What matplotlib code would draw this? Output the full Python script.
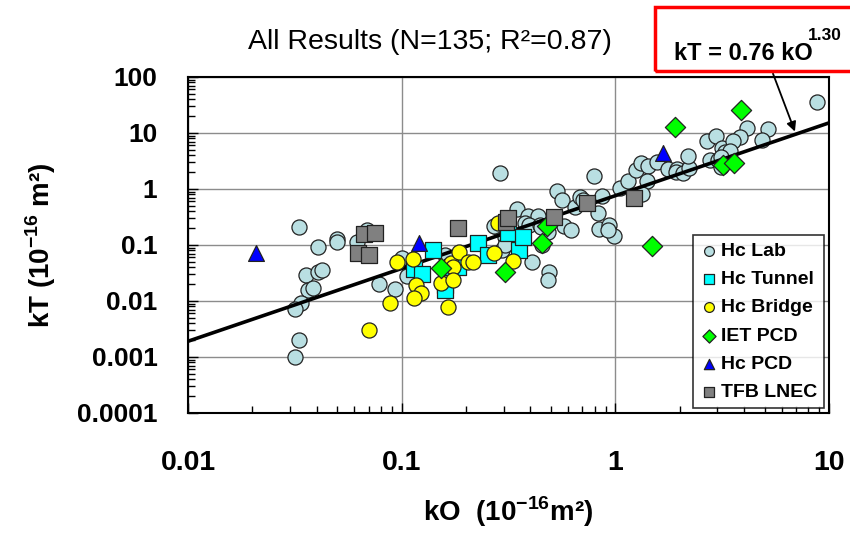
import numpy as np
import matplotlib
matplotlib.use('Agg')
import matplotlib.pyplot as plt
from matplotlib.patches import Rectangle
from matplotlib.ticker import LogLocator, FixedLocator, FixedFormatter, NullFormatter

plt.rcParams['font.family'] = ['Liberation Sans', 'DejaVu Sans']
plt.rcParams['mathtext.fontset'] = 'custom'
plt.rcParams['mathtext.rm'] = 'Liberation Sans'
plt.rcParams['mathtext.bf'] = 'Liberation Sans:bold'

# ---------------- data ----------------
hc_lab_x = [0.033, 0.0405, 0.050, 0.050, 0.062, 0.069, 0.0356, 0.0405, 0.0424, 0.0364,
            0.0385, 0.0338, 0.0317, 0.078, 0.093, 0.100, 0.106, 0.033, 0.0317, 0.159,
            0.279, 0.29, 0.294, 0.304, 0.304, 0.407, 0.489, 0.484, 0.346, 0.39,
            0.434, 0.378, 0.394, 0.444, 0.484, 0.453, 0.575, 0.62, 0.533, 0.562,
            0.647, 0.683, 0.705, 0.794, 0.865, 0.83, 0.84, 0.933, 0.985, 1.05,
            1.146, 1.25, 1.32, 1.42, 1.57, 1.41, 1.33, 1.76, 1.94, 1.92,
            2.07, 2.21, 2.19, 2.68, 2.96, 3.16, 3.26, 2.77, 3.02, 3.12,
            4.13, 5.18, 3.83, 3.55, 4.85, 3.44, 8.78, 0.27, 0.45, 0.92, 3.12]
hc_lab_y = [0.21, 0.092, 0.128, 0.113, 0.113, 0.185, 0.029, 0.033, 0.036, 0.0157,
            0.0171, 0.0092, 0.0072, 0.020, 0.0164, 0.0586, 0.028, 0.002, 0.001, 0.066,
            0.21, 1.93, 0.081, 0.139, 0.10, 0.050, 0.033, 0.0237, 0.44, 0.33,
            0.33, 0.247, 0.228, 0.228, 0.171, 0.10, 0.218, 0.185, 0.92, 0.637,
            0.477, 0.72, 0.637, 1.71, 0.75, 0.373, 0.193, 0.228, 0.145, 1.04,
            1.39, 2.18, 2.91, 2.57, 3.03, 1.39, 0.815, 2.28, 2.28, 2.01,
            1.93, 2.37, 3.88, 7.2, 8.84, 5.40, 4.58, 3.29, 3.29, 2.47,
            12.3, 11.8, 8.48, 7.2, 7.5, 4.77, 35.8, 0.22, 0.21, 0.185, 3.7]

hc_tunnel_x = [0.114, 0.1245, 0.140, 0.159, 0.159, 0.172, 0.1835, 0.2275, 0.2535, 0.314, 0.354, 0.37]
hc_tunnel_y = [0.0373, 0.0303, 0.081, 0.0193, 0.0157, 0.0405, 0.0405, 0.109, 0.066, 0.164, 0.081, 0.139]

hc_bridge_x = [0.0703, 0.088, 0.095, 0.113, 0.117, 0.123, 0.114, 0.153, 0.165, 0.170,
               0.174, 0.174, 0.185, 0.204, 0.216, 0.27, 0.282, 0.332]
hc_bridge_y = [0.00303, 0.0092, 0.0497, 0.0562, 0.0193, 0.0139, 0.0113, 0.021, 0.0078, 0.0477,
               0.0405, 0.0237, 0.075, 0.0497, 0.0497, 0.072, 0.247, 0.0518]

iet_pcd_x = [0.153, 0.304, 0.453, 0.479, 1.49, 1.90, 3.19, 3.59, 3.87]
iet_pcd_y = [0.0388, 0.033, 0.109, 0.218, 0.096, 12.8, 2.68, 2.91, 25.8]

hc_pcd_x = [0.0208, 0.1205, 1.67]
hc_pcd_y = [0.072, 0.109, 4.39]

tfb_lnec_x = [0.0624, 0.0666, 0.0703, 0.075, 0.1835, 0.3076, 0.314, 0.516, 0.736, 1.22]
tfb_lnec_y = [0.072, 0.157, 0.066, 0.164, 0.201, 0.258, 0.303, 0.316, 0.562, 0.69]

fit_coef = 0.76
fit_exp = 1.30

x_ticks = [0.01, 0.1, 1, 10]
x_tick_labels = ['0.01', '0.1', '1', '10']
y_ticks = [0.0001, 0.001, 0.01, 0.1, 1, 10, 100]
y_tick_labels = ['0.0001', '0.001', '0.01', '0.1', '1', '10', '100']

title_text = 'All Results (N=135; R²=0.87)'
eq_main = 'kT = 0.76 kO'
eq_exp = '1.30'

# ---------------- figure ----------------
fig = plt.figure(figsize=(8.5, 5.4), dpi=100)
ax = fig.add_axes([188/850, 1 - 413/540, (829-188)/850, (413-77)/540])
ax.set_xscale('log')
ax.set_yscale('log')
ax.set_xlim(0.01, 10)
ax.set_ylim(0.0001, 100)

ax.grid(True, which='major', color='#8c8c8c', lw=1.0, zorder=0)
ax.set_axisbelow(True)

ms = 118
ax.scatter(hc_lab_x, hc_lab_y, s=ms, marker='o', c='#b9dfe2', edgecolors='#222222',
           linewidths=0.9, zorder=2, label='Hc Lab')
xf = np.logspace(-2, 1, 200)
ax.plot(xf, fit_coef * xf ** fit_exp, color='black', lw=2.6, zorder=2.5)
ax.scatter(hc_tunnel_x, hc_tunnel_y, s=ms, marker='s', c='#00ffff', edgecolors='#222222',
           linewidths=0.9, zorder=3, label='Hc Tunnel')
ax.scatter(hc_bridge_x, hc_bridge_y, s=ms, marker='o', c='#ffff00', edgecolors='#222222',
           linewidths=0.9, zorder=3, label='Hc Bridge')
ax.scatter(iet_pcd_x, iet_pcd_y, s=ms*0.9, marker='D', c='#00ff00', edgecolors='#222222',
           linewidths=0.9, zorder=3, label='IET PCD')
ax.scatter(hc_pcd_x, hc_pcd_y, s=ms*1.1, marker='^', c='#0000ff', edgecolors='#222222',
           linewidths=0.9, zorder=3, label='Hc PCD')
ax.scatter(tfb_lnec_x, tfb_lnec_y, s=ms, marker='s', c='#808080', edgecolors='#222222',
           linewidths=0.9, zorder=3, label='TFB LNEC')

ax.xaxis.set_major_locator(FixedLocator(x_ticks))
ax.xaxis.set_major_formatter(FixedFormatter(x_tick_labels))
ax.yaxis.set_major_locator(FixedLocator(y_ticks))
ax.yaxis.set_major_formatter(FixedFormatter(y_tick_labels))
ax.xaxis.set_minor_locator(LogLocator(base=10, subs=np.arange(2, 10), numticks=20))
ax.yaxis.set_minor_locator(LogLocator(base=10, subs=np.arange(2, 10), numticks=20))
ax.xaxis.set_minor_formatter(NullFormatter())
ax.yaxis.set_minor_formatter(NullFormatter())

ax.tick_params(axis='both', which='both', direction='in', top=False, right=False,
               color='black', width=1)
ax.tick_params(axis='both', which='major', length=7)
ax.tick_params(axis='both', which='minor', length=5)
ax.tick_params(axis='y', which='major', pad=22, labelsize=19)
ax.tick_params(axis='x', which='major', pad=27, labelsize=20.5)
for lbl in ax.get_xticklabels() + ax.get_yticklabels():
    lbl.set_fontweight('bold')

for sp in ax.spines.values():
    sp.set_color('black')
    sp.set_linewidth(1.5)

ax.set_xlabel('kO  (10$^{\\mathbf{-16}}$m²)', fontsize=20, fontweight='bold', labelpad=13)
ax.set_ylabel('kT (10$^{\\mathbf{-16}}$ m²)', fontsize=20, fontweight='bold', labelpad=14)

leg = ax.legend(loc='lower right', frameon=True, fancybox=False, edgecolor='black',
                prop={'weight': 'bold', 'size': 14}, markerscale=0.65, handletextpad=0.1,
                handlelength=1.0, labelspacing=0.55, borderpad=0.35, borderaxespad=0.25)
leg.get_frame().set_linewidth(1.2)

fig.text(430/850, 1 - 42/540, title_text, ha='center', va='center', fontsize=20.5)

# equation box
rect = Rectangle((655/850, 1 - 71/540), 0.3, 64/540, transform=fig.transFigure,
                 fill=False, edgecolor='#ff0000', lw=2.5, clip_on=False)
fig.patches.append(rect)
fig.text(674/850, 1 - 60/540, eq_main, ha='left', va='baseline', fontsize=17, fontweight='bold')
fig.text(808/850, 1 - 40/540, eq_exp, ha='left', va='baseline', fontsize=12.5, fontweight='bold')

x_arrow = 7.0
ax.annotate('', xy=(x_arrow, fit_coef * x_arrow ** fit_exp), xycoords='data',
            xytext=(772/850, 1 - 71/540), textcoords='figure fraction',
            arrowprops=dict(arrowstyle='-|>', color='black', lw=1.3, mutation_scale=14))

fig.savefig('out.png', dpi=100)
